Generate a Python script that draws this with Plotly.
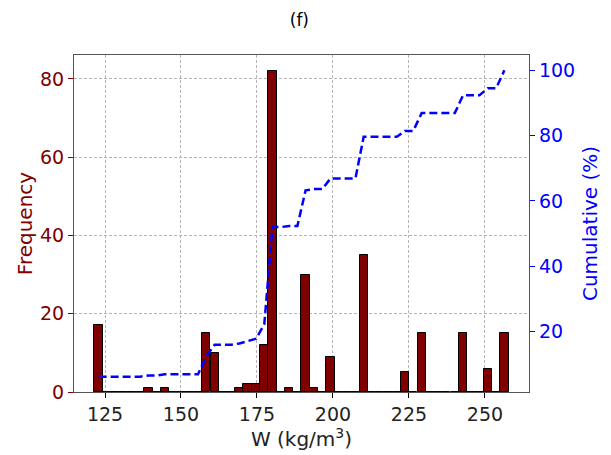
import plotly.graph_objects as go

# Histogram bin centres (kg/m^3)
bin_centers = [
    122.9, 125.6, 128.4, 131.1, 133.8, 136.5, 139.3, 142.0, 144.7, 147.4,
    150.2, 152.9, 155.6, 158.3, 161.1, 163.8, 166.5, 169.2, 171.9, 174.7,
    177.4, 180.1, 182.9, 185.6, 188.3, 191.0, 193.8, 196.5, 199.2, 201.9,
    204.7, 207.4, 210.1, 212.8, 215.5, 218.3, 221.0, 223.7, 226.4, 229.2,
    231.9, 234.6, 237.3, 240.1, 242.8, 245.5, 248.2, 251.0, 253.7, 256.4,
]
# Frequency per bin
frequency = [
    17, 0, 0, 0, 0, 0, 1, 0, 1, 0,
    0, 0, 0, 15, 10, 0, 0, 1, 2, 2,
    12, 82, 0, 1, 0, 30, 1, 0, 9, 0,
    0, 0, 35, 0, 0, 0, 0, 5, 0, 15,
    0, 0, 0, 0, 15, 0, 0, 6, 0, 15,
]
# Cumulative percentage per bin
cumulative = [
    6.18, 6.18, 6.18, 6.18, 6.18, 6.18, 6.55, 6.55, 6.91, 6.91,
    6.91, 6.91, 6.91, 12.36, 16.00, 16.00, 16.00, 16.36, 17.09, 17.82,
    22.18, 52.00, 52.00, 52.36, 52.36, 63.27, 63.64, 63.64, 66.91, 66.91,
    66.91, 66.91, 79.64, 79.64, 79.64, 79.64, 79.64, 81.45, 81.45, 86.91,
    86.91, 86.91, 86.91, 86.91, 92.36, 92.36, 92.36, 94.55, 94.55, 100.0,
]
x_ticks = [125, 150, 175, 200, 225, 250]
y_ticks = [0, 20, 40, 60, 80]
y2_ticks = [20, 40, 60, 80, 100]

FONT = "DejaVu Sans"
RED = "#800000"
BLUE = "#0000ff"
FS = 19
TFS = 20

fig = go.Figure()
fig.add_trace(go.Bar(
    x=bin_centers, y=frequency, width=2.725,
    marker=dict(color=RED, line=dict(color="black", width=1)),
    yaxis="y", showlegend=False,
))
fig.add_trace(go.Scatter(
    x=bin_centers, y=cumulative, mode="lines",
    line=dict(color=BLUE, width=2.5, dash="8px,4px"),
    yaxis="y2", showlegend=False,
))

axis_line = "#555555"
grid = dict(showgrid=True, gridcolor="#b5b5b5", gridwidth=0.8, griddash="3px,2px")

fig.update_layout(
    width=611, height=455,
    margin=dict(l=74, r=82, t=55, b=63),
    paper_bgcolor="white", plot_bgcolor="white",
    font=dict(family=FONT, size=FS, color="black"),
    title=dict(text="(f)", x=0.49, xanchor="center", y=1 - 20 / 455, yanchor="middle",
               font=dict(family=FONT, size=17, color="black")),
    bargap=0,
    xaxis=dict(
        range=[114.8, 264.5], tickvals=x_ticks, ticks="outside", ticklen=5,
        tickcolor="black", tickfont=dict(size=FS, color="#222"),
        showline=True, linecolor=axis_line, linewidth=1.2, mirror=True,
        title=dict(text="W (kg/m<sup>3</sup>)", standoff=5,
                   font=dict(size=TFS, color="#222")),
        zeroline=False, **grid,
    ),
    yaxis=dict(
        range=[0, 86.1], tickvals=y_ticks, ticks="outside", ticklen=5,
        tickcolor=RED, tickfont=dict(size=FS, color=RED),
        showline=True, linecolor=axis_line, linewidth=1.2, mirror=True,
        title=dict(text="Frequency", standoff=1, font=dict(size=TFS, color=RED)),
        zeroline=False, **grid,
    ),
    yaxis2=dict(
        range=[1.5, 104.7], tickvals=y2_ticks, ticks="outside", ticklen=5,
        tickcolor=BLUE, tickfont=dict(size=FS, color=BLUE),
        overlaying="y", side="right", showgrid=False, zeroline=False,
        showline=True, linecolor=axis_line, linewidth=1.2,
        title=dict(text="Cumulative (%)", standoff=8, font=dict(size=TFS, color=BLUE)),
    ),
)

fig.write_html("out.html")
